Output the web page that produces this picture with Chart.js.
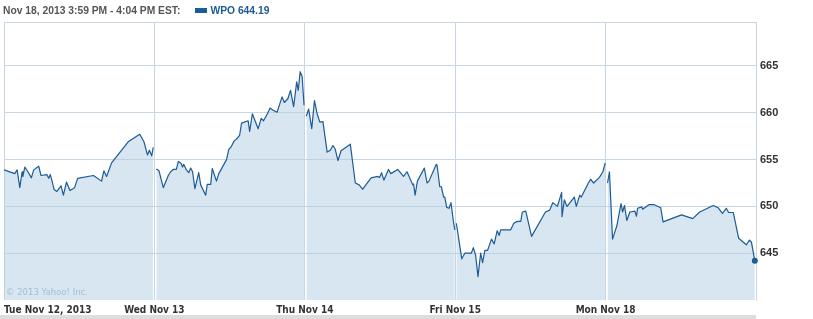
<!DOCTYPE html>
<html><head><meta charset="utf-8">
<script src="https://cdn.jsdelivr.net/npm/chart.js@4.4.0/dist/chart.umd.min.js"></script>
<style>
html,body{margin:0;padding:0;background:#fff;}
#wrap{position:relative;width:813px;height:319px;overflow:hidden;}
#c{position:absolute;left:0;top:0;}
#hdr{position:absolute;left:3px;top:5px;font:bold 10.3px 'Liberation Sans',Arial,sans-serif;color:#555;white-space:nowrap;line-height:12px;}
#hdr .sw{display:inline-block;width:12px;height:5px;background:#1d5b96;margin:0 3px 1px 15px;vertical-align:middle;}
#hdr .lg{color:#1d5b96;}
#wm{position:absolute;left:6px;top:287px;font:8.5px 'DejaVu Sans',sans-serif;color:#a9bccd;white-space:nowrap;}
#band{position:absolute;left:0;top:315px;width:756px;height:4px;background:#ddd;}
</style></head>
<body>
<div id="wrap">
<canvas id="c" width="813" height="319"></canvas>
<div id="hdr">Nov 18, 2013 3:59 PM - 4:04 PM EST:<span class="sw"></span><span class="lg">WPO 644.19</span></div>
<div id="wm">© 2013 Yahoo! Inc.</div>
<div id="band"></div>
</div>
<script>
const dayLabels = ['Tue Nov 12, 2013', 'Wed Nov 13', 'Thu Nov 14', 'Fri Nov 15', 'Mon Nov 18', ''];
const yTickValues = [645, 650, 655, 660, 665];

// minutes after the 9:30 open, and price
const nov12Min = [0,28,34,41,47,49,54,62,71,77,90,96,111,116,120,124,130,137,148,154,162,171,183,191,232,253,259,266,279,322,352,363,372,377,383,387];
const nov12Px = [653.9,653.5,653.9,652.0,653.7,653.2,654.2,653.7,653.05,653.9,654.3,653.3,653.4,653.0,653.4,652.8,651.8,651.6,652.2,651.2,652.6,651.7,652.0,653.0,653.3,652.7,653.8,653.2,654.65,656.9,657.7,656.9,655.5,656.0,655.4,656.3];

const nov13Min = [5,12,23,36,42,49,57,62,69,73,76,83,89,94,99,105,115,120,133,137,146,150,161,167,187,193,198,207,213,221,226,243,247,254,269,277,283,293,300,307,318,331,337,346,353,361,369,373,378,383,388];
const nov13Px = [654.0,653.8,652.0,653.3,653.7,653.95,653.95,654.8,654.6,654.2,654.5,653.9,653.6,654.1,653.7,651.9,653.6,652.3,651.2,652.35,652.35,654.05,652.7,653.5,655.0,656.1,656.3,657.0,657.2,657.6,658.9,659.15,658.0,659.9,658.3,659.4,659.15,659.9,660.5,660.3,660.05,661.7,661.1,661.5,662.4,660.65,663.3,662.4,664.4,663.9,660.8];

const nov14Min = [4,10,18,25,32,39,47,58,66,73,79,86,94,118,131,141,150,172,189,194,199,205,217,223,241,256,265,280,282,286,292,310,317,322,341,343,350,354,360,363,368,374,379,386,389];
const nov14Px = [659.65,660.4,658.3,661.3,659.9,659.0,659.05,655.8,656.0,656.5,656.1,654.9,655.95,656.65,652.5,652.3,651.85,653.05,653.2,653.1,653.6,652.8,653.95,653.5,653.95,653.2,653.7,652.3,652.4,651.2,652.7,654.1,652.5,652.7,654.5,654.4,652.1,652.1,651.0,651.0,649.9,649.8,650.4,648.2,647.5];

const nov15Min = [3,6,17,25,36,42,47,53,59,66,71,77,84,94,101,109,114,118,144,152,161,170,174,183,198,234,245,253,265,276,277,283,290,309,314,323,327,344,351,359,374,383,389];
const nov15Px = [648.2,647.4,644.4,645.0,645.0,645.0,645.6,644.8,642.5,645.0,644.0,645.3,645.3,646.5,646.0,647.4,646.9,647.5,647.5,648.2,648.4,648.4,649.4,649.5,646.8,649.4,649.6,650.4,650.0,651.5,648.9,650.7,650.0,651.0,650.0,651.2,651.0,652.4,652.9,652.5,653.1,653.7,654.65];

const nov18Min = [5,10,18,29,40,44,49,55,63,76,80,83,94,96,113,125,143,149,197,226,244,279,292,303,313,319,331,345,365,373,378,387];
const nov18Px = [652.5,653.7,646.5,647.9,650.3,649.4,650.1,648.5,649.4,649.5,648.95,649.8,649.95,649.7,650.2,650.2,649.85,648.35,649.1,648.7,649.4,650.1,649.85,649.25,649.8,649.35,649.35,646.6,645.9,646.4,646.2,644.19];

const SESSION = 390;
const LINE = '#1d5b96';
const GRID = '#c7d6e2';

const days = [[nov12Min, nov12Px], [nov13Min, nov13Px], [nov14Min, nov14Px], [nov15Min, nov15Px], [nov18Min, nov18Px]];
const points = [];
days.forEach(([mins, px], d) => {
  mins.forEach((m, i) => points.push({ x: d + m / SESSION, y: px[i] }));
  if (d < days.length - 1) points.push({ x: d + 1, y: null });
});
const radii = points.map((p, i) => (i === points.length - 1 ? 3 : 0));

new Chart(document.getElementById('c').getContext('2d'), {
  type: 'line',
  data: {
    datasets: [{
      data: points,
      borderColor: LINE,
      borderWidth: 1.2,
      borderJoinStyle: 'round',
      backgroundColor: 'rgba(175,205,227,0.5)',
      fill: 'start',
      tension: 0,
      spanGaps: false,
      pointRadius: radii,
      pointBackgroundColor: LINE,
      pointBorderWidth: 0,
      clip: 6
    }]
  },
  options: {
    responsive: false,
    animation: false,
    events: [],
    layout: { padding: { left: 2, top: 22, right: 0, bottom: 0 } },
    plugins: { legend: { display: false }, tooltip: { enabled: false } },
    scales: {
      x: {
        type: 'linear',
        min: 0,
        max: dayLabels.length - 1,
        afterBuildTicks: s => { s.ticks = dayLabels.map((_, i) => ({ value: i })); },
        afterFit: s => { s.height = 19; },
        ticks: {
          callback: v => dayLabels[Math.round(v)],
          align: 'inner',
          padding: 4,
          autoSkip: false,
          maxRotation: 0,
          color: '#333',
          font: { family: "'DejaVu Sans Condensed','Liberation Sans',sans-serif", size: 10, weight: 'bold' }
        },
        grid: { color: GRID, drawTicks: false },
        border: { display: false }
      },
      y: {
        position: 'right',
        min: 640,
        max: 669.7,
        afterBuildTicks: s => { s.ticks = yTickValues.concat([s.max]).map(v => ({ value: v })); },
        afterFit: s => { s.width = 57; },
        ticks: {
          callback: v => (yTickValues.includes(v) ? String(v) : ''),
          padding: 4,
          color: '#333',
          font: { family: "'Liberation Sans',Arial,sans-serif", size: 11, weight: 'bold' }
        },
        grid: { color: GRID, drawTicks: false },
        border: { display: true, color: GRID }
      }
    }
  }
});
</script>
</body></html>
